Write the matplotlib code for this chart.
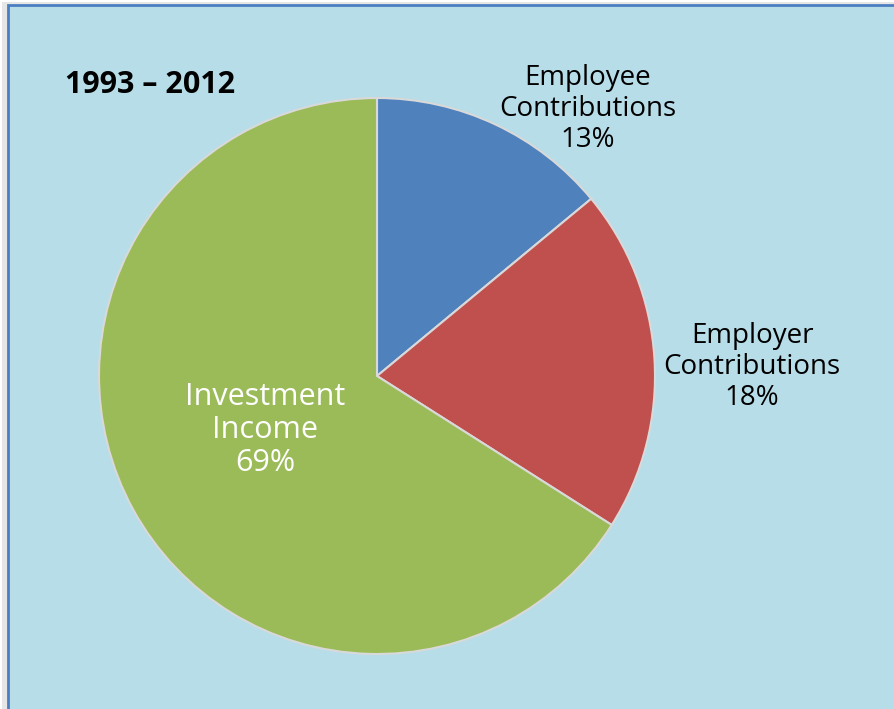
import matplotlib.pyplot as plt
from matplotlib.patches import Rectangle

# slice sizes as drawn, label texts as printed on the chart
categories = ['Employee\nContributions', 'Employer\nContributions', 'Investment\nIncome']
values = [14.0, 20.0, 66.0]
pct_labels = ['13%', '18%', '69%']
colors = ['#4F81BD', '#C0504D', '#9BBB59']
period = '1993 \u2013 2012'

W, H = 894, 709
fig = plt.figure(figsize=(W / 100, H / 100), dpi=100)
fig.patch.set_facecolor('white')

# panel background + blue frame (extends past right/bottom edge)
fig.patches.append(Rectangle((2 / W, -0.1), 1.2, (H - 2) / H + 0.1, transform=fig.transFigure,
                             facecolor='#E6E6E6', edgecolor='none', zorder=-3))
fig.patches.append(Rectangle((8 / W, -0.1), 1.2, (H - 5) / H + 0.1, transform=fig.transFigure,
                             facecolor='#B7DDE8', edgecolor='#4A7EC0', linewidth=2, zorder=-2))

cx, cy, r = 377, 376, 278
ax = fig.add_axes([(cx - r) / W, (H - cy - r) / H, 2 * r / W, 2 * r / H])
ax.set_zorder(1)
ax.pie(values, colors=colors, startangle=90, counterclock=False, radius=1,
       wedgeprops=dict(edgecolor='#D9D9D9', linewidth=1.5))
ax.set_xlim(-1, 1)
ax.set_ylim(-1, 1)
ax.axis('off')

font = 'Open Sans'
def px(x, y):
    return x / W, 1 - y / H

fig.text(*px(150, 85), period, ha='center', va='center', fontsize=22,
         fontweight='bold', family=font, zorder=5)
fig.text(*px(588, 109), categories[0] + '\n' + pct_labels[0], ha='center', va='center',
         fontsize=20, family=font, linespacing=1.15, zorder=5)
fig.text(*px(752, 367), categories[1] + '\n' + pct_labels[1], ha='center', va='center',
         fontsize=20, family=font, linespacing=1.15, zorder=5)
fig.text(*px(265, 430), categories[2] + '\n' + pct_labels[2], ha='center', va='center',
         fontsize=22, family=font, linespacing=1.15, color='white', zorder=5)

fig.savefig('out.png', dpi=100)
